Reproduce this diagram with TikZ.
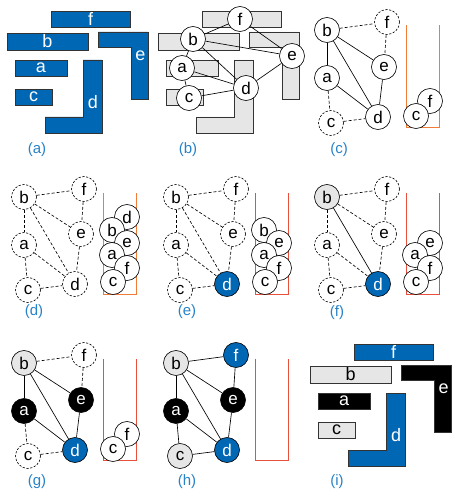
\documentclass[tikz,border=0pt]{standalone}
\usepackage{fontspec}
\setmainfont{Liberation Sans}
\definecolor{myblue}{RGB}{0,103,181}
\definecolor{mygray}{RGB}{230,230,230}
\definecolor{lblblue}{RGB}{40,130,200}
\definecolor{contA}{RGB}{240,125,55}
\definecolor{contB}{RGB}{232,80,60}
\tikzset{
 vtx/.style={circle,draw,fill=white,minimum size=25pt,inner sep=0pt,line width=0.65pt,font=\fontsize{17}{17}\selectfont},
 dv/.style={vtx,dash pattern=on 2.2pt off 1.6pt},
 gv/.style={vtx,fill=mygray},
 bv/.style={vtx,fill=myblue,text=white},
 kv/.style={vtx,fill=black,text=white},
 ed/.style={line width=0.65pt},
 ded/.style={ed,dash pattern=on 3pt off 2pt},
 blk/.style={draw=black!80,line width=0.6pt},
 blklbl/.style={font=\fontsize{18}{18}\selectfont,inner sep=0pt},
 plbl/.style={text=lblblue,font=\fontsize{15}{15}\selectfont},
 cont/.style={line width=0.9pt},
 gnb/.style={vtx},gnf/.style={vtx},gne/.style={vtx},gna/.style={vtx},gnd/.style={vtx},gnc/.style={vtx},
 gebf/.style={ed},gefe/.style={ed},geba/.style={ed},gebe/.style={ed},gebd/.style={ed},
 gead/.style={ed},geed/.style={ed},geac/.style={ed},gecd/.style={ed},
 bkf/.style={},bkb/.style={},bke/.style={},bka/.style={},bkc/.style={},bkd/.style={},
 tkf/.style={},tkb/.style={},tke/.style={},tka/.style={},tkc/.style={},tkd/.style={},
}
\newcommand\Blocks{%
 \draw[blk,bkf] (51,11) rectangle (130,27);
 \draw[blk,bkb] (7,33) rectangle (88,50);
 \draw[blk,bke] (98,32) -- (148,32) -- (148,99) -- (131,99) -- (131,47) -- (98,47) -- cycle;
 \draw[blk,bka] (15,60) rectangle (67,76);
 \draw[blk,bkc] (15,89) rectangle (52,105);
 \draw[blk,bkd] (83,60) -- (102,60) -- (102,133) -- (45,133) -- (45,117) -- (83,117) -- cycle;
}
\newcommand\BLabels{%
 \node[blklbl,tkf] (lf) at (90.5,19) {f};
 \node[blklbl,tkb] (lb) at (47.5,41.5) {b};
 \node[blklbl,tke] (le) at (140.5,56) {e};
 \node[blklbl,tka] (la) at (41,68) {a};
 \node[blklbl,tkc] (lc) at (33.5,97) {c};
 \node[blklbl,tkd] (ld) at (93,102) {d};
}
\newcommand\Gph{%
 \node[gnb] (b) at (327,30) {b};
 \node[gnf] (f) at (387,22) {f};
 \node[gne] (e) at (384,67) {e};
 \node[gna] (a) at (327,78) {a};
 \node[gnd] (d) at (378,117) {d};
 \node[gnc] (c) at (331,123) {c};
 \draw[gebf] (b) -- (f);
 \draw[gefe] (f) -- (e);
 \draw[geba] (b) -- (a);
 \draw[gebe] (b) -- (e);
 \draw[gebd] (b) -- (d);
 \draw[gead] (a) -- (d);
 \draw[geed] (e) -- (d);
 \draw[geac] (a) -- (c);
 \draw[gecd] (c) -- (d);
}
\newcommand\Cont[1]{\draw[cont,draw=#1] (406,25.5) -- (406,127) -- (439,127) -- (439,25.5);}
\begin{document}
\begin{tikzpicture}[x=1pt,y=-1pt]
\useasboundingbox (0,0) rectangle (452,489);
% (a)
\begin{scope}[name prefix=A-,bkf/.style={fill=myblue},bkb/.style={fill=myblue},bke/.style={fill=myblue},
 bka/.style={fill=myblue},bkc/.style={fill=myblue},bkd/.style={fill=myblue},
 tkf/.style={text=white},tkb/.style={text=white},tke/.style={text=white},tka/.style={text=white},tkc/.style={text=white},tkd/.style={text=white}]
 \Blocks
 \BLabels
\end{scope}
% (b)
\begin{scope}[shift={(151,0)},bkf/.style={fill=mygray},bkb/.style={fill=mygray},bke/.style={fill=mygray},
 bka/.style={fill=mygray},bkc/.style={fill=mygray},bkd/.style={fill=mygray}]
 \Blocks
\end{scope}
\begin{scope}[name prefix=B-]
 \node[vtx] (b) at (193,39) {b};
 \node[vtx] (f) at (240,19) {f};
 \node[vtx] (e) at (292,56) {e};
 \node[vtx] (a) at (182,68) {a};
 \node[vtx] (d) at (246,88) {d};
 \node[vtx] (c) at (189,98) {c};
 \draw[ed] (b) -- (f);
 \draw[ed] (f) -- (e);
 \draw[ed] (b) -- (e);
 \draw[ed] (b) -- (a);
 \draw[ed] (b) -- (d);
 \draw[ed] (a) -- (d);
 \draw[ed] (a) -- (c);
 \draw[ed] (c) -- (d);
 \draw[ed] (d) -- (e);
\end{scope}
% (c)
\begin{scope}[name prefix=C-,gnf/.style={dv},gnc/.style={dv},gebf/.style={ded},gefe/.style={ded},geac/.style={ded},gecd/.style={ded}]
 \Gph
 \Cont{contA}
 \node[vtx] (sf) at (430,101) {f};
 \node[vtx] (sc) at (416,116) {c};
\end{scope}
% (d)
\begin{scope}[shift={(-303,167)},name prefix=D-,gnb/.style={dv},gnf/.style={dv},gne/.style={dv},gna/.style={dv},gnd/.style={dv},gnc/.style={dv},
 gebf/.style={ded},gefe/.style={ded},geba/.style={ded},gebe/.style={ded},gebd/.style={ded},gead/.style={ded},geed/.style={ded},geac/.style={ded},gecd/.style={ded}]
 \Gph
 \Cont{contA}
 \node[vtx] (sd) at (430,50) {d};
 \node[vtx] (sb) at (415,63) {b};
 \node[vtx] (se) at (430,76) {e};
 \node[vtx] (sa) at (415,88) {a};
 \node[vtx] (sf) at (430,101) {f};
 \node[vtx] (sc) at (416,115) {c};
\end{scope}
% (e)
\begin{scope}[shift={(-151,167)},name prefix=E-,gnb/.style={dv},gnf/.style={dv},gne/.style={dv},gna/.style={dv},gnd/.style={bv},gnc/.style={dv},
 gebf/.style={ded},gefe/.style={ded},geba/.style={ded},gebe/.style={ded},gebd/.style={ded},gead/.style={ded},geed/.style={ded},geac/.style={ded},gecd/.style={ded}]
 \Gph
 \Cont{contB}
 \node[vtx] (sb) at (415,63) {b};
 \node[vtx] (se) at (430,76) {e};
 \node[vtx] (sa) at (415,88) {a};
 \node[vtx] (sf) at (430,101) {f};
 \node[vtx] (sc) at (416,115) {c};
\end{scope}
% (f)
\begin{scope}[shift={(0,167)},name prefix=F-,gnb/.style={gv},gnf/.style={dv},gne/.style={dv},gna/.style={dv},gnd/.style={bv},gnc/.style={dv},
 gebf/.style={ded},gefe/.style={ded},geba/.style={ded},gebe/.style={ded},gead/.style={ded},geed/.style={ded},geac/.style={ded},gecd/.style={ded}]
 \Gph
 \Cont{contB}
 \node[vtx] (se) at (430,76) {e};
 \node[vtx] (sa) at (415,88) {a};
 \node[vtx] (sf) at (430,101) {f};
 \node[vtx] (sc) at (416,115) {c};
\end{scope}
% (g)
\begin{scope}[shift={(-303,333)},name prefix=G-,gnb/.style={gv},gnf/.style={dv},gne/.style={kv},gna/.style={kv},gnd/.style={bv},gnc/.style={dv},
 gebf/.style={ded},gefe/.style={ded},geac/.style={ded},gecd/.style={ded}]
 \Gph
 \Cont{contB}
 \node[vtx] (sf) at (430,101) {f};
 \node[vtx] (sc) at (416,116) {c};
\end{scope}
% (h)
\begin{scope}[shift={(-151,333)},name prefix=H-,gnb/.style={gv},gnf/.style={bv},gne/.style={kv},gna/.style={kv},gnd/.style={bv},gnc/.style={gv}]
 \Gph
 \Cont{contB}
\end{scope}
% (i)
\begin{scope}[shift={(303,333)},name prefix=I-,bkf/.style={fill=myblue},bkb/.style={fill=mygray},bke/.style={fill=black},
 bka/.style={fill=black},bkc/.style={fill=mygray},bkd/.style={fill=myblue},
 tkf/.style={text=white},tke/.style={text=white},tka/.style={text=white},tkd/.style={text=white}]
 \Blocks
 \BLabels
\end{scope}
% panel labels
\node[plbl] (pa) at (37,150) {(a)};
\node[plbl] (pb) at (188,150) {(b)};
\node[plbl] (pc) at (339,150) {(c)};
\node[plbl] (pd) at (34,312) {(d)};
\node[plbl] (pe) at (187,312) {(e)};
\node[plbl] (pf) at (337,313) {(f)};
\node[plbl] (pg) at (37,482) {(g)};
\node[plbl] (ph) at (187,482) {(h)};
\node[plbl] (pi) at (337,482) {(i)};
\end{tikzpicture}
\end{document}
